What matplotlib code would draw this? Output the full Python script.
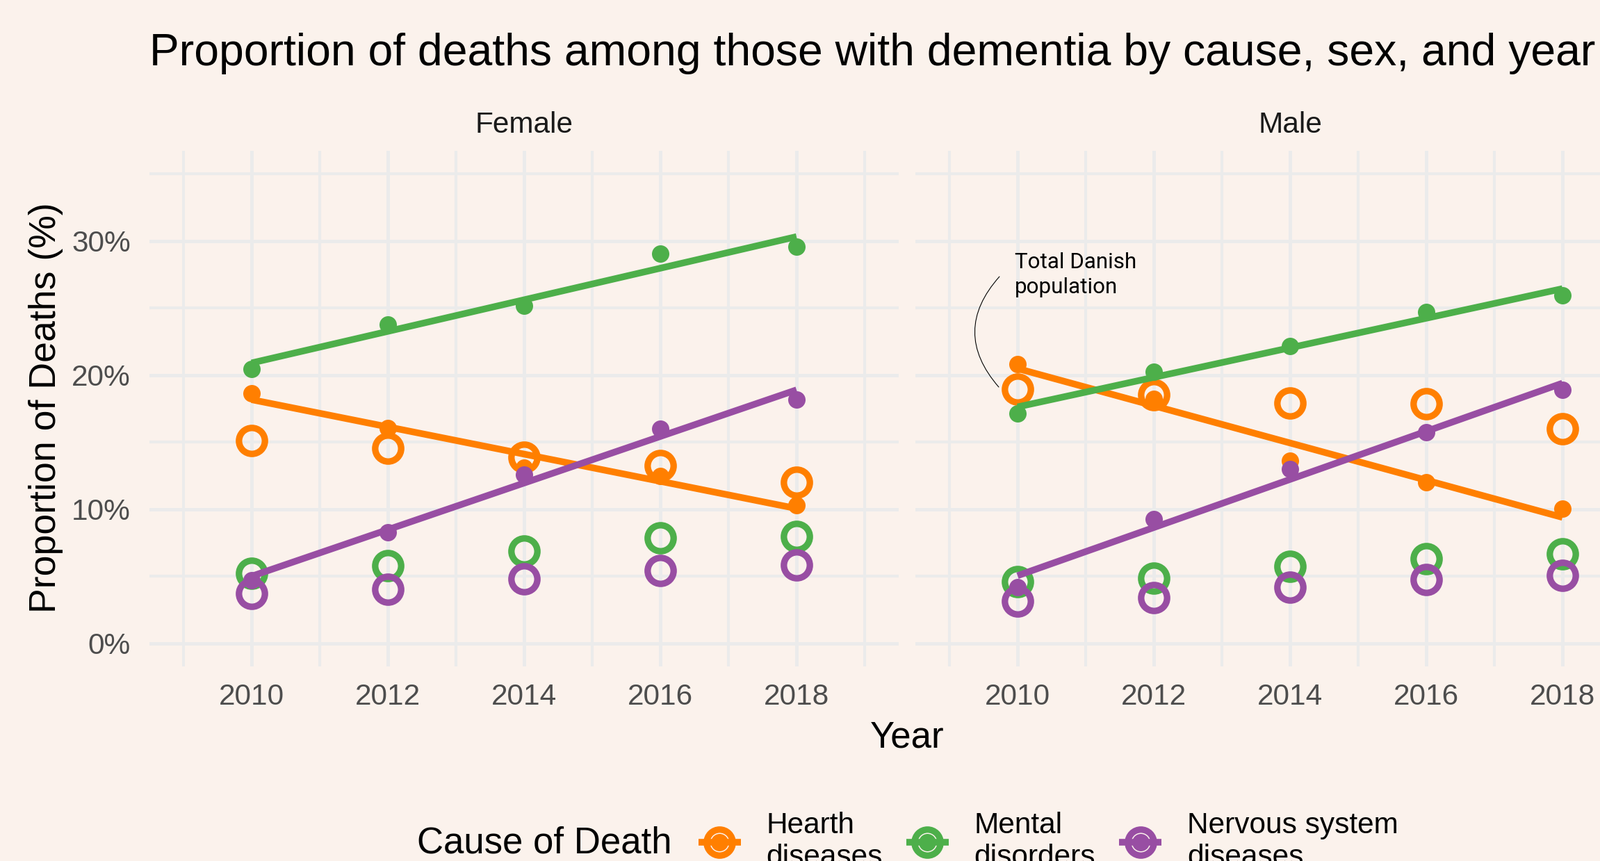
import numpy as np
import matplotlib
matplotlib.use('Agg')
import matplotlib.pyplot as plt
from matplotlib.lines import Line2D
from matplotlib.legend_handler import HandlerTuple
from matplotlib.ticker import PercentFormatter, FixedLocator

years = [2010, 2012, 2014, 2016, 2018]
causes = ['Hearth\ndiseases', 'Mental\ndisorders', 'Nervous system\ndiseases']
colors = ['#FF7F00', '#4DAF4A', '#984EA3']
sexes = ['Female', 'Male']

# share of deaths (%) among people with dementia -> open circles
female_dem_heart = [15.1, 14.55, 13.85, 13.25, 12.0]
female_dem_mental = [5.2, 5.8, 6.85, 7.85, 7.95]
female_dem_nervous = [3.7, 4.0, 4.8, 5.45, 5.85]
male_dem_heart = [18.95, 18.55, 17.9, 17.85, 16.0]
male_dem_mental = [4.6, 4.85, 5.75, 6.3, 6.65]
male_dem_nervous = [3.15, 3.4, 4.2, 4.75, 5.05]

# total danish population -> small dots + linear fit
female_pop_heart = [18.65, 16.05, 13.1, 12.45, 10.3]
female_pop_mental = [20.45, 23.8, 25.2, 29.05, 29.6]
female_pop_nervous = [4.7, 8.25, 12.6, 16.0, 18.2]
male_pop_heart = [20.8, 18.25, 13.6, 12.0, 10.05]
male_pop_mental = [17.15, 20.25, 22.15, 24.7, 25.95]
male_pop_nervous = [4.2, 9.25, 13.0, 15.75, 18.9]

dementia = {'Female': [female_dem_heart, female_dem_mental, female_dem_nervous],
            'Male': [male_dem_heart, male_dem_mental, male_dem_nervous]}
population = {'Female': [female_pop_heart, female_pop_mental, female_pop_nervous],
              'Male': [male_pop_heart, male_pop_mental, male_pop_nervous]}

BG = '#FBF2EC'
GRID = '#EBEBEB'
W, H = 2302, 1239
plt.rcParams['font.family'] = ['Liberation Sans', 'DejaVu Sans']

fig = plt.figure(figsize=(W / 100, H / 100), dpi=100, facecolor=BG)

ring_ms, ring_mew = 26.9, 6.7
dot_ms = 18
lw = 6.9

axes = []
for i, sex in enumerate(sexes):
    left = [215, 1317][i]
    ax = fig.add_axes([left / W, 1 - 959.4 / H, 1078 / W, 742.7 / H])
    ax.set_facecolor(BG)
    ax.set_xlim(2008.5, 2019.5)
    ax.set_ylim(-1.75, 36.75)
    ax.xaxis.set_major_locator(FixedLocator(years))
    ax.xaxis.set_minor_locator(FixedLocator([2009, 2011, 2013, 2015, 2017, 2019]))
    ax.yaxis.set_major_locator(FixedLocator([0, 10, 20, 30]))
    ax.yaxis.set_minor_locator(FixedLocator([5, 15, 25, 35]))
    ax.yaxis.set_major_formatter(PercentFormatter(xmax=100, decimals=0))
    ax.grid(which='major', color=GRID, lw=3.6, zorder=0)
    ax.grid(which='minor', color=GRID, lw=2.9, zorder=0)
    ax.set_axisbelow(True)
    for s in ax.spines.values():
        s.set_visible(False)
    ax.tick_params(which='both', length=0, labelsize=30.5, labelcolor='#4D4D4D')
    ax.tick_params(axis='x', pad=17)
    ax.tick_params(axis='y', pad=19.4)
    if i == 1:
        ax.tick_params(axis='y', labelleft=False)

    for k in range(3):
        ax.plot(years, dementia[sex][k], ls='none', marker='o', ms=ring_ms,
                mfc='none', mec=colors[k], mew=ring_mew, zorder=3)
    for k in range(3):
        ax.plot(years, population[sex][k], ls='none', marker='o', ms=dot_ms,
                mfc=colors[k], mew=0, zorder=4)
    for k in range(3):
        fit = np.polyfit(years, population[sex][k], 1)
        ax.plot(years, np.polyval(fit, years), color=colors[k], lw=lw,
                solid_capstyle='butt', zorder=5)

    ax.text(0.5, 1.035, sex, transform=ax.transAxes, ha='center', va='baseline',
            fontsize=30.5, color='#1A1A1A')
    axes.append(ax)

# annotation on the male panel
axm = axes[1]
axm.annotate('', xy=(2009.724, 19.11), xytext=(2009.734, 27.35),
             arrowprops=dict(arrowstyle='-', color='black', lw=0.8,
                             connectionstyle='arc3,rad=0.44', shrinkA=0, shrinkB=0))
axm.text(2009.96, 29.15, 'Total Danish\npopulation', ha='left', va='top',
         fontsize=22.6, family=['Roboto', 'DejaVu Sans'], linespacing=1.3, color='black')

fig.text(215 / W, 1 - 94 / H, 'Proportion of deaths among those with dementia by cause, sex, and year',
         ha='left', va='baseline', fontsize=46.3, color='black')
fig.text(1305 / W, 1 - 1075 / H, 'Year', ha='center', va='baseline', fontsize=38)
fig.text(80 / W, 1 - 586.5 / H, 'Proportion of Deaths (%)', rotation=90, rotation_mode='anchor',
         ha='center', va='baseline', fontsize=38.6)

# legend
fig.text(600 / W, 1 - 1228 / H, 'Cause of Death', ha='left', va='baseline', fontsize=38)
handles = []
for k in range(3):
    ring = Line2D([], [], ls='none', marker='o', ms=ring_ms, mfc='none', mec=colors[k], mew=ring_mew)
    dot = Line2D([], [], ls='none', marker='o', ms=dot_ms, mfc=colors[k], mew=0)
    line = Line2D([], [], color=colors[k], lw=lw, solid_capstyle='butt')
    handles.append((ring, dot, line))
fig.legend(handles, causes, handler_map={tuple: HandlerTuple(ndivide=1, pad=0)},
           loc='center left', bbox_to_anchor=(1004.7 / W, 1 - 1211 / H), ncol=3,
           frameon=False, fontsize=30.5, borderpad=0, borderaxespad=0,
           handlelength=1.44, handletextpad=0.87, columnspacing=0.8, numpoints=1)

fig.savefig('out.png', dpi=100, facecolor=BG)
